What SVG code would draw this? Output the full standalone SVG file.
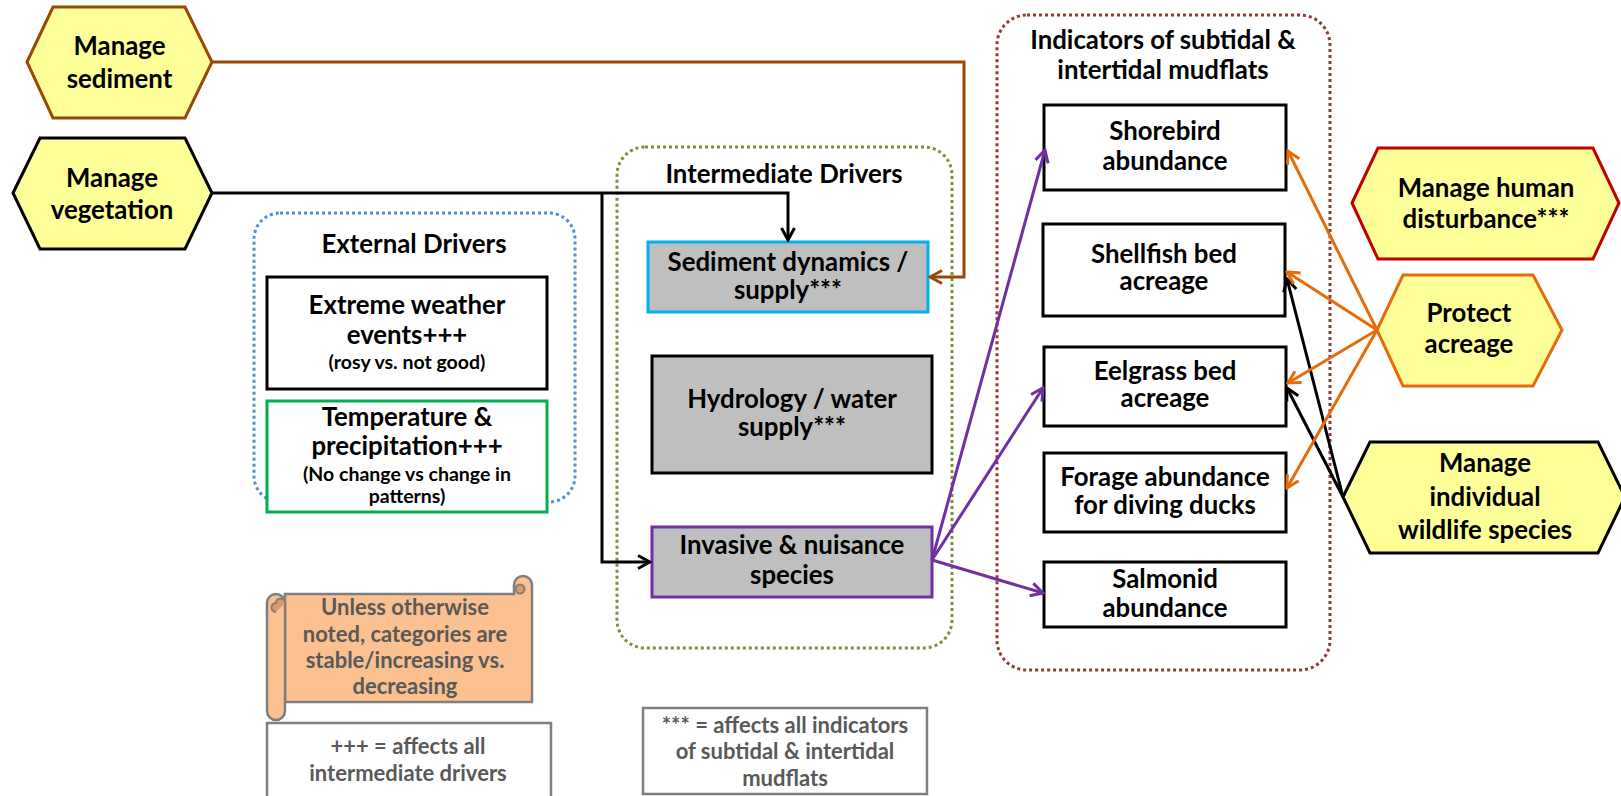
<svg xmlns="http://www.w3.org/2000/svg" width="1621" height="796" viewBox="0 0 1621 796">
  <style>
    .t { font-family: Lato, "Liberation Sans", sans-serif; font-weight: 700; font-size: 25.8px; text-anchor: middle; fill: #000; }
    .sub { font-size: 19.5px; }
    .leg { font-size: 22px; fill: #595959; }
    .hex { fill: #FFFF99; stroke-width: 3; }
    .box { fill: #FFFFFF; stroke-width: 3; }
    .grey { fill: #BFBFBF; }
    .cont { fill: none; stroke-width: 3; stroke-dasharray: 3 3; }
    .conn { fill: none; stroke-width: 3; }
    .note { fill: #FFFFFF; stroke: #7F7F7F; stroke-width: 2.5; }
  </style>
  <defs>
    <marker id="arr-black" viewBox="0 0 16 16" refX="14" refY="8" markerWidth="16" markerHeight="16" markerUnits="userSpaceOnUse" orient="auto">
      <path d="M2,1.5 L14,8 L2,14.5" fill="none" stroke="#000" stroke-width="3"/>
    </marker>
    <marker id="arr-brown" viewBox="0 0 16 16" refX="14" refY="8" markerWidth="16" markerHeight="16" markerUnits="userSpaceOnUse" orient="auto">
      <path d="M2,1.5 L14,8 L2,14.5" fill="none" stroke="#984807" stroke-width="3"/>
    </marker>
    <marker id="arr-purple" viewBox="0 0 16 16" refX="14" refY="8" markerWidth="16" markerHeight="16" markerUnits="userSpaceOnUse" orient="auto">
      <path d="M2,1.5 L14,8 L2,14.5" fill="none" stroke="#7030A0" stroke-width="3"/>
    </marker>
    <marker id="arr-orange" viewBox="0 0 16 16" refX="14" refY="8" markerWidth="16" markerHeight="16" markerUnits="userSpaceOnUse" orient="auto">
      <path d="M2,1.5 L14,8 L2,14.5" fill="none" stroke="#E46C0A" stroke-width="3"/>
    </marker>
  </defs>

  <rect width="1621" height="796" fill="#FFFFFF"/>

  <!-- dotted groupings -->
  <g id="external-drivers">
    <rect class="cont" x="254" y="213" width="321" height="289" rx="26" stroke="#558ED5"/>
    <text class="t" x="414" y="253">External Drivers</text>
  </g>
  <g id="intermediate-drivers">
    <rect class="cont" x="617" y="147" width="335" height="501" rx="28" stroke="#77933C"/>
    <text class="t" x="784" y="183">Intermediate Drivers</text>
  </g>
  <g id="indicators">
    <rect class="cont" x="997" y="15" width="333" height="655" rx="30" stroke="#953735"/>
    <text class="t" x="1163" y="49">Indicators of subtidal &amp;</text>
    <text class="t" x="1163" y="79">intertidal mudflats</text>
  </g>

  <!-- management actions -->
  <g id="manage-sediment">
    <polygon class="hex" stroke="#984807" points="27,62 53,7 185,7 212,62 185,118 53,118"/>
    <text class="t" x="119.5" y="55">Manage</text>
    <text class="t" x="119.5" y="88">sediment</text>
  </g>
  <g id="manage-vegetation">
    <polygon class="hex" stroke="#000" points="13,193 40,138 185,138 212,193 185,249 40,249"/>
    <text class="t" x="112" y="187">Manage</text>
    <text class="t" x="112" y="219">vegetation</text>
  </g>
  <g id="manage-human-disturbance">
    <polygon class="hex" stroke="#C00000" points="1352,203 1378,148 1593,148 1619,203 1593,259 1378,259"/>
    <text class="t" x="1486" y="197">Manage human</text>
    <text class="t" x="1486" y="228">disturbance***</text>
  </g>
  <g id="protect-acreage">
    <polygon class="hex" stroke="#E46C0A" points="1377,330 1403,275 1533,275 1562,330 1533,386 1403,386"/>
    <text class="t" x="1469" y="322">Protect</text>
    <text class="t" x="1469" y="353">acreage</text>
  </g>
  <g id="manage-wildlife">
    <polygon class="hex" stroke="#000" points="1343,497 1370,442 1598,442 1625,497 1598,553 1370,553"/>
    <text class="t" x="1485" y="472">Manage</text>
    <text class="t" x="1485" y="506">individual</text>
    <text class="t" x="1485" y="539">wildlife species</text>
  </g>

  <!-- external drivers -->
  <g id="extreme-weather">
    <rect class="box" x="267" y="277" width="280" height="112" stroke="#000"/>
    <text class="t" x="407" y="314">Extreme weather</text>
    <text class="t" x="407" y="344">events+++</text>
    <text class="t sub" x="407" y="369">(rosy vs. not good)</text>
  </g>
  <g id="temperature-precipitation">
    <rect class="box" x="267" y="401" width="280" height="111" stroke="#00B050"/>
    <text class="t" x="407" y="426">Temperature &amp;</text>
    <text class="t" x="407" y="455">precipitation+++</text>
    <text class="t sub" x="407" y="481">(No change vs change in</text>
    <text class="t sub" x="407" y="503">patterns)</text>
  </g>

  <!-- intermediate drivers -->
  <g id="sediment-dynamics">
    <rect class="box grey" x="648" y="242" width="280" height="70" stroke="#00B0F0"/>
    <text class="t" x="788" y="271">Sediment dynamics /</text>
    <text class="t" x="788" y="299">supply***</text>
  </g>
  <g id="hydrology">
    <rect class="box grey" x="652" y="356" width="280" height="117" stroke="#000"/>
    <text class="t" x="792" y="408">Hydrology / water</text>
    <text class="t" x="792" y="436">supply***</text>
  </g>
  <g id="invasive-species">
    <rect class="box grey" x="652" y="527" width="280" height="70" stroke="#7030A0"/>
    <text class="t" x="792" y="554">Invasive &amp; nuisance</text>
    <text class="t" x="792" y="584">species</text>
  </g>

  <!-- indicators -->
  <g id="shorebird">
    <rect class="box" x="1044" y="105" width="242" height="85" stroke="#000"/>
    <text class="t" x="1165" y="140">Shorebird</text>
    <text class="t" x="1165" y="170">abundance</text>
  </g>
  <g id="shellfish">
    <rect class="box" x="1043" y="224" width="242" height="92" stroke="#000"/>
    <text class="t" x="1164" y="263">Shellfish bed</text>
    <text class="t" x="1164" y="290">acreage</text>
  </g>
  <g id="eelgrass">
    <rect class="box" x="1044" y="347" width="242" height="79" stroke="#000"/>
    <text class="t" x="1165" y="380">Eelgrass bed</text>
    <text class="t" x="1165" y="407">acreage</text>
  </g>
  <g id="forage">
    <rect class="box" x="1044" y="453" width="242" height="79" stroke="#000"/>
    <text class="t" x="1165" y="486">Forage abundance</text>
    <text class="t" x="1165" y="514">for diving ducks</text>
  </g>
  <g id="salmonid">
    <rect class="box" x="1044" y="562" width="242" height="65" stroke="#000"/>
    <text class="t" x="1165" y="588">Salmonid</text>
    <text class="t" x="1165" y="617">abundance</text>
  </g>

  <!-- notes -->
  <g id="scroll-note">
    <path d="M285,594 H514 V585 A9,9 0 0 1 532,585 V702 H285 Z" fill="#FAC090" stroke="#7F7F7F" stroke-width="2.5"/>
    <circle cx="520" cy="589" r="4.5" fill="#D99A66" stroke="#7F7F7F" stroke-width="2"/>
    <path d="M267,603 A9,9 0 0 1 285,603 V711 A9,9 0 0 1 267,711 Z" fill="#FAC090" stroke="#7F7F7F" stroke-width="2.5"/>
    <path d="M276,612 A4.5,4.5 0 0 1 276,603 A4.5,4.5 0 0 1 285,603" fill="#D99A66" stroke="#7F7F7F" stroke-width="2"/>
    <text class="t leg" x="405" y="615">Unless otherwise</text>
    <text class="t leg" x="405" y="642">noted, categories are</text>
    <text class="t leg" x="405" y="668">stable/increasing vs.</text>
    <text class="t leg" x="405" y="694">decreasing</text>
  </g>
  <g id="plus-note">
    <rect class="note" x="267" y="723" width="284" height="90"/>
    <text class="t leg" x="408" y="754">+++ = affects all</text>
    <text class="t leg" x="408" y="781">intermediate drivers</text>
  </g>
  <g id="star-note">
    <rect class="note" x="643" y="708" width="284" height="86"/>
    <text class="t leg" x="785" y="733">*** = affects all indicators</text>
    <text class="t leg" x="785" y="759">of subtidal &amp; intertidal</text>
    <text class="t leg" x="785" y="786">mudflats</text>
  </g>

  <!-- connectors -->
  <g id="connectors">
    <polyline class="conn" stroke="#984807" points="212,62 964,62 964,277 930,277" marker-end="url(#arr-brown)"/>
    <polyline class="conn" stroke="#000" points="212,193 788,193 788,240" marker-end="url(#arr-black)"/>
    <polyline class="conn" stroke="#000" points="602,193 602,562 650,562" marker-end="url(#arr-black)"/>
    <line class="conn" stroke="#7030A0" x1="932" y1="560" x2="1045" y2="150" marker-end="url(#arr-purple)"/>
    <line class="conn" stroke="#7030A0" x1="932" y1="560" x2="1043" y2="388" marker-end="url(#arr-purple)"/>
    <line class="conn" stroke="#7030A0" x1="932" y1="560" x2="1043" y2="593" marker-end="url(#arr-purple)"/>
    <line class="conn" stroke="#000" x1="1343" y1="497" x2="1287" y2="279" marker-end="url(#arr-black)"/>
    <line class="conn" stroke="#000" x1="1343" y1="497" x2="1287" y2="388" marker-end="url(#arr-black)"/>
    <line class="conn" stroke="#E46C0A" x1="1377" y1="330" x2="1288" y2="151" marker-end="url(#arr-orange)"/>
    <line class="conn" stroke="#E46C0A" x1="1377" y1="330" x2="1287" y2="272" marker-end="url(#arr-orange)"/>
    <line class="conn" stroke="#E46C0A" x1="1377" y1="330" x2="1288" y2="383" marker-end="url(#arr-orange)"/>
    <line class="conn" stroke="#E46C0A" x1="1377" y1="330" x2="1287" y2="488" marker-end="url(#arr-orange)"/>
  </g>
</svg>
